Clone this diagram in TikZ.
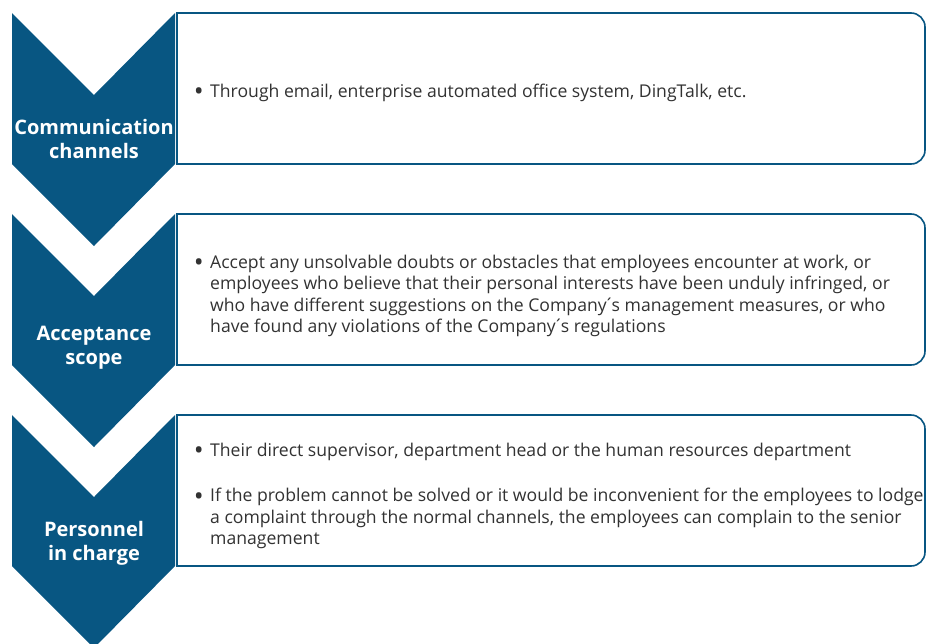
\documentclass[tikz,border=0pt]{standalone}
\usepackage{fontspec}
\setmainfont{Open Sans}
\definecolor{chevronblue}{RGB}{8,86,130}
\definecolor{bodytext}{RGB}{50,50,50}
\newcommand{\itm}{\llap{\raisebox{-3.2pt}{\scalebox{1.5}{\textbullet}}\hspace{6.5pt}}}
\newcommand{\apos}{\kern-2.6pt´\kern-2.6pt}

\begin{document}
\begin{tikzpicture}[
    x=1pt, y=-1pt,
    chevron/.style={fill=chevronblue},
    panel/.style={draw=chevronblue, line width=1.6pt, fill=white},
    steplabel/.style={font=\fontsize{20}{24}\selectfont\bfseries, text=white,
                      align=center, inner sep=0pt},
    bullettext/.style={font=\fontsize{17.6}{21.3}\selectfont, text=bodytext,
                       align=left, anchor=west, inner sep=0pt}
]
\clip (0,0) rectangle (926,643);

% panels
\draw[panel] (177,13) -- (550,13) [rounded corners=14pt] -- (925,13)
    -- (925,164) -- (550,164) [sharp corners] -- (177,164) -- cycle;
\draw[panel] (177,214) -- (550,214) [rounded corners=14pt] -- (925,214)
    -- (925,365) -- (550,365) [sharp corners] -- (177,365) -- cycle;
\draw[panel] (177,415) -- (550,415) [rounded corners=14pt] -- (925,415)
    -- (925,566) -- (550,566) [sharp corners] -- (177,566) -- cycle;

% chevrons
\fill[chevron] (12,13) -- (94,95) -- (175,13) -- (175,164) -- (94,246) -- (12,164) -- cycle;
\fill[chevron] (12,214) -- (94,296) -- (175,214) -- (175,365) -- (94,447) -- (12,365) -- cycle;
\fill[chevron] (12,415) -- (94,497) -- (175,415) -- (175,566) -- (94,648) -- (12,566) -- cycle;

\node[steplabel] (comm) at (94,139) {Communication\\channels};
\node[steplabel] (scope) at (94,348) {Acceptance\\scope};
\node[steplabel] (staff) at (94,543) {Personnel\\in charge};

\node[bullettext] (commtxt) at (210,93)
    {\itm Through email, enterprise automated office system, DingTalk, etc.};
\node[bullettext] (scopetxt) at (210,296)
    {\itm Accept any unsolvable doubts or obstacles that employees encounter at work, or\\
     employees who believe that their personal interests have been unduly infringed, or\\
     who have different suggestions on the Company\apos s management measures, or who\\
     have found any violations of the Company\apos s regulations};
\node[bullettext] (stafftxt) at (210,496)
    {\itm Their direct supervisor, department head or the human resources department\\[24pt]
     \itm If the problem cannot be solved or it would be inconvenient for the employees to lodge\\
     a complaint through the normal channels, the employees can complain to the senior\\
     management};
\end{tikzpicture}
\end{document}
